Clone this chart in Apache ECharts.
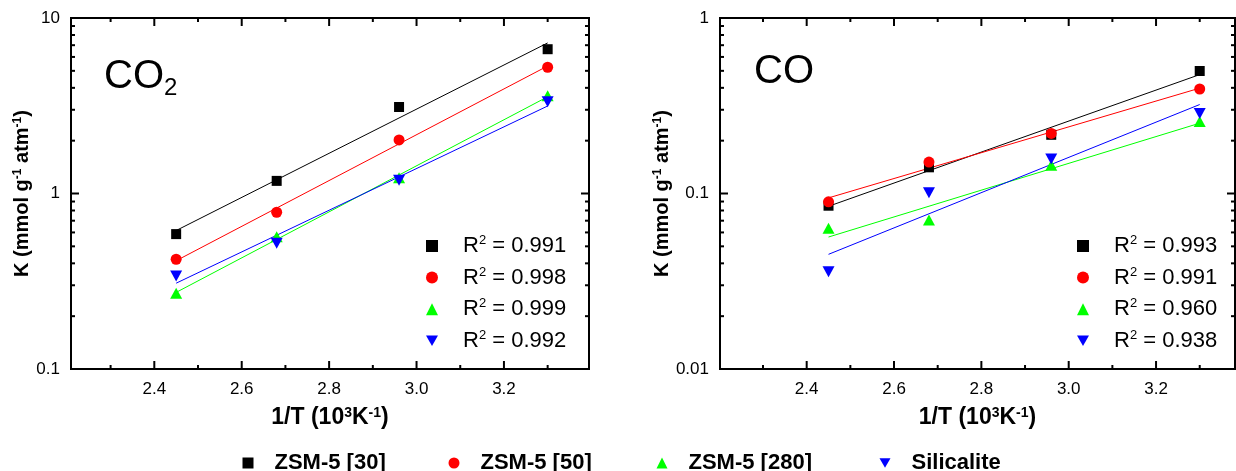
<!DOCTYPE html>
<html><head><meta charset="utf-8">
<script src="https://cdn.jsdelivr.net/npm/echarts@6/dist/echarts.min.js"></script>
<style>html,body{margin:0;padding:0;background:#fff}#c{width:1236px;height:471px}</style>
</head><body><div id="c"></div>
<script>
// ---- data ----
const invT = [2.45, 2.68, 2.96, 3.30];
const seriesNames = ['ZSM-5 [30]', 'ZSM-5 [50]', 'ZSM-5 [280]', 'Silicalite'];
const co2_zsm30  = [0.587, 1.18, 3.11, 6.64];
const co2_zsm50  = [0.422, 0.782, 2.02, 5.24];
const co2_zsm280 = [0.27, 0.567, 1.23, 3.6];
const co2_sil    = [0.339, 0.52, 1.19, 3.33];
const co_zsm30   = [0.0852, 0.141, 0.216, 0.499];
const co_zsm50   = [0.0897, 0.151, 0.220, 0.394];
const co_zsm280  = [0.0633, 0.0706, 0.145, 0.257];
const co_sil     = [0.0358, 0.101, 0.157, 0.286];
const co2R2 = ['0.991', '0.998', '0.999', '0.992'];
const coR2  = ['0.993', '0.991', '0.960', '0.938'];
const xTicks = [2.4, 2.6, 2.8, 3.0, 3.2];
const xMinor = [2.3, 2.5, 2.7, 2.9, 3.1, 3.3];
const yTicksCO2 = [0.1, 1, 10];
const yMinorCO2 = [0.2, 0.3, 0.4, 0.5, 0.6, 0.7, 0.8, 0.9, 2, 3, 4, 5, 6, 7, 8, 9];
const yTicksCO = [0.01, 0.1, 1];
const yMinorCO = [0.02, 0.03, 0.04, 0.05, 0.06, 0.07, 0.08, 0.09, 0.2, 0.3, 0.4, 0.5, 0.6, 0.7, 0.8, 0.9];

// ---- styling ----
const FONT = 'Liberation Sans, Arial, sans-serif';
const colors = ['#000000', '#ff0000', '#00ff00', '#0000ff'];
const DOWN = 'path://M0,0L10,0L5,8.66Z';
const symbols = ['rect', 'circle', 'triangle', DOWN];
const symSizes = [10, 11, [12, 11], [12, 11]];
const MAJOR = 8, MINOR = 4;

function fit(xs, ys) {
  const ly = ys.map(v => Math.log10(v));
  const n = xs.length;
  const mx = xs.reduce((a, b) => a + b, 0) / n;
  const my = ly.reduce((a, b) => a + b, 0) / n;
  let sxy = 0, sxx = 0;
  for (let i = 0; i < n; i++) { sxy += (xs[i] - mx) * (ly[i] - my); sxx += (xs[i] - mx) ** 2; }
  const b = sxy / sxx, a = my - b * mx;
  const x0 = xs[0], x1 = xs[n - 1];
  return [[x0, Math.pow(10, a + b * x0)], [x1, Math.pow(10, a + b * x1)]];
}

const panels = [
  { grid: { left: 71, top: 18, width: 518, height: 351 }, xmin: 2.2094, xmax: 3.3946,
    ymin: 0.1, ymax: 10, yMajor: yTicksCO2, yMinor: yMinorCO2, nameGapY: 31,
    data: [co2_zsm30, co2_zsm50, co2_zsm280, co2_sil] },
  { grid: { left: 720, top: 18, width: 515, height: 351 }, xmin: 2.2015, xmax: 3.3808,
    ymin: 0.01, ymax: 1, yMajor: yTicksCO, yMinor: yMinorCO, nameGapY: 37,
    data: [co_zsm30, co_zsm50, co_zsm280, co_sil] }
];

const supRich = { sup: { fontSize: 12, fontWeight: 'bold', fontFamily: FONT, verticalAlign: 'bottom', padding: [0, 0, 9, 0] } };
const grids = [], xAxes = [], yAxes = [], series = [];
const tickStyle = { stroke: '#000', lineWidth: 2 };

panels.forEach((p, g) => {
  grids.push(Object.assign({ show: true, borderColor: '#000', borderWidth: 2, backgroundColor: 'transparent' }, p.grid));
  const xi = xAxes.length, yi = yAxes.length;
  xAxes.push({ gridIndex: g, type: 'value', min: p.xmin, max: p.xmax, position: 'bottom',
    axisLine: { show: true, onZero: false, lineStyle: { width: 2, color: '#000' } },
    axisTick: { show: false },
    axisLabel: { show: true, customValues: xTicks, formatter: v => Number(v).toFixed(1), fontSize: 17, color: '#000', fontFamily: FONT, margin: 12 },
    splitLine: { show: false },
    name: '1/T (10{sup|3}K{sup|-1})', nameLocation: 'middle', nameGap: 37,
    nameTextStyle: { fontSize: 23, fontWeight: 'bold', color: '#000', fontFamily: FONT,
      rich: { sup: { fontSize: 14, fontWeight: 'bold', fontFamily: FONT, verticalAlign: 'bottom', padding: [0, 0, 10, 0] } } } });
  yAxes.push({ gridIndex: g, type: 'log', logBase: 10, min: p.ymin, max: p.ymax, position: 'left',
    axisLine: { show: true, onZero: false, lineStyle: { width: 2, color: '#000' } },
    axisTick: { show: false },
    axisLabel: { show: true, customValues: p.yMajor, formatter: v => String(+Number(v).toPrecision(3)), fontSize: 17, color: '#000', fontFamily: FONT, margin: 11 },
    splitLine: { show: false },
    name: 'K (mmol g{sup|-1} atm{sup|-1})', nameLocation: 'middle', nameGap: p.nameGapY, nameRotate: 90,
    nameTextStyle: { fontSize: 20, fontWeight: 'bold', color: '#000', fontFamily: FONT, rich: supRich } });

  // tick marks on all four sides, placed through the axes' own scales
  const xTickData = xTicks.map(v => [v, p.ymin, MAJOR]).concat(xMinor.map(v => [v, p.ymin, MINOR]));
  const yTickData = p.yMajor.map(v => [p.xmin, v, MAJOR]).concat(p.yMinor.map(v => [p.xmin, v, MINOR]));
  series.push({ type: 'custom', name: 'xticks' + g, xAxisIndex: xi, yAxisIndex: yi, silent: true, z: 6, clip: false,
    data: xTickData,
    renderItem: (params, api) => {
      const cs = params.coordSys, len = api.value(2);
      const x = api.coord([api.value(0), api.value(1)])[0];
      const yb = cs.y + cs.height, yt = cs.y;
      return { type: 'group', children: [
        { type: 'line', shape: { x1: x, y1: yb, x2: x, y2: yb - len }, style: tickStyle },
        { type: 'line', shape: { x1: x, y1: yt, x2: x, y2: yt + len }, style: tickStyle } ] };
    } });
  series.push({ type: 'custom', name: 'yticks' + g, xAxisIndex: xi, yAxisIndex: yi, silent: true, z: 6, clip: false,
    data: yTickData,
    renderItem: (params, api) => {
      const cs = params.coordSys, len = api.value(2);
      const y = api.coord([api.value(0), api.value(1)])[1];
      const xl = cs.x, xr = cs.x + cs.width;
      return { type: 'group', children: [
        { type: 'line', shape: { x1: xl, y1: y, x2: xl + len, y2: y }, style: tickStyle },
        { type: 'line', shape: { x1: xr, y1: y, x2: xr - len, y2: y }, style: tickStyle } ] };
    } });

  p.data.forEach((ys, k) => {
    series.push({ name: 'fit' + g + k, type: 'line', xAxisIndex: xi, yAxisIndex: yi,
      data: fit(invT, ys), showSymbol: false, symbol: 'none', silent: true, z: 2,
      lineStyle: { color: colors[k], width: 1 } });
  });
  p.data.forEach((ys, k) => {
    series.push({ name: seriesNames[k], type: 'scatter', xAxisIndex: xi, yAxisIndex: yi,
      data: invT.map((x, i) => [x, ys[i]]), symbol: symbols[k], symbolSize: symSizes[k], z: 3,
      itemStyle: { color: colors[k], opacity: 1 } });
  });
});

const legendData = seriesNames.map((n, k) => ({ name: n, icon: symbols[k] }));
const r2Legend = (left, vals) => ({
  orient: 'vertical', left: left, top: 229, itemWidth: 12, itemHeight: 12, itemGap: 8.6,
  selectedMode: false, data: legendData,
  formatter: name => 'R{sup|2} = ' + vals[seriesNames.indexOf(name)],
  textStyle: { fontSize: 22, color: '#000', fontFamily: FONT, lineHeight: 22, padding: [0, 0, 0, 20],
    rich: { sup: { fontSize: 13, fontFamily: FONT, verticalAlign: 'bottom', padding: [0, 0, 10, 0] } } }
});
// bottom legend: one component per entry, icon centres
const bottomIconX = [243, 449, 657, 880];
const bottomLegends = legendData.map((d, k) => ({
  orient: 'horizontal', left: bottomIconX[k] - 5.5, top: 447, itemWidth: 11, itemHeight: 11,
  data: [d],
  textStyle: { fontSize: 22, fontWeight: 'bold', color: '#000', fontFamily: FONT, padding: [0, 0, 0, 16] }
}));

const option = {
  backgroundColor: '#fff',
  animation: false,
  title: [
    { text: 'CO{sub|2}', left: 104, top: 54, padding: 0,
      textStyle: { fontSize: 40, fontWeight: 'normal', color: '#000', fontFamily: FONT,
        rich: { sub: { fontSize: 24, fontFamily: FONT, padding: [22, 0, 0, 0] } } } },
    { text: 'CO', left: 754, top: 52, padding: 0,
      textStyle: { fontSize: 40, fontWeight: 'normal', color: '#000', fontFamily: FONT } }
  ],
  legend: bottomLegends.concat([r2Legend(421, co2R2), r2Legend(1072, coR2)]),
  grid: grids, xAxis: xAxes, yAxis: yAxes, series: series
};
const chart = echarts.init(document.getElementById('c'), null, { renderer: 'canvas' });
chart.setOption(option);
</script></body></html>
